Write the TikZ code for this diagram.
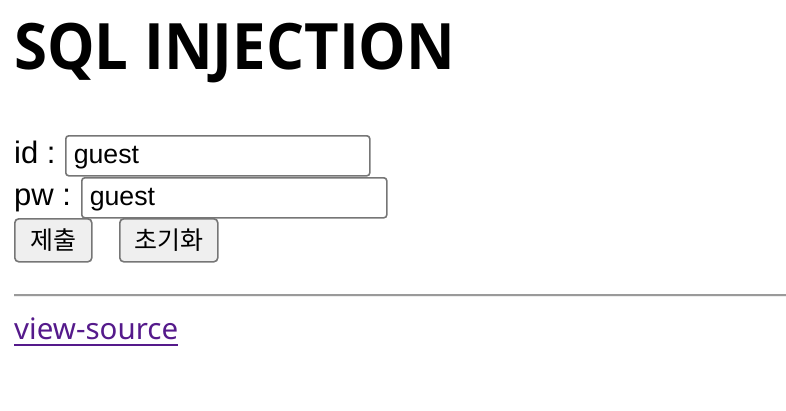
\documentclass[tikz,border=0pt]{standalone}
\usepackage{fontspec}
\setmainfont{Liberation Sans}
\newfontfamily\titlefont{Open Sans Bold}[FakeStretch=0.936]
\newfontfamily\krfont{Noto Sans CJK KR}
\newfontfamily\linkfont{Noto Sans}
\usetikzlibrary{positioning}
\definecolor{boxgray}{HTML}{767676}
\definecolor{btnfill}{HTML}{EFEFEF}
\definecolor{hrgray}{HTML}{9A9A9A}
\definecolor{hrlight}{HTML}{EEEEEE}
\definecolor{linkcol}{HTML}{551A8B}
\tikzset{
  label/.style={
    inner sep=0pt, anchor=base west, font=\fontsize{31}{36}\selectfont
  },
  inputbox/.style={
    draw=boxgray, line width=1.6pt, rounded corners=3pt, anchor=north west,
    minimum height=40pt, inner xsep=8pt, inner ysep=0pt, align=left,
    text height=20pt, text depth=4pt,
    font=\fontsize{26.7}{30}\selectfont
  },
  button/.style={
    draw=boxgray, line width=1.6pt, rounded corners=4pt, fill=btnfill,
    anchor=north west, minimum height=43pt, inner sep=0pt,
    font=\krfont\fontsize{25}{28}\selectfont
  }
}

\begin{document}
\begin{tikzpicture}[x=1pt, y=-1pt]
    \useasboundingbox (0,0) rectangle (786,410);

    % Titre
    \node[inner sep=0pt, anchor=base west, font=\titlefont\fontsize{64}{70}\selectfont] (title) at (14,69) {SQL INJECTION};

    % Champs
    \node[label] (idlabel) at (14,163) {id :};
    \node[inputbox, text width=288pt] (idbox) at (65,135) {guest};
    \node[label] (pwlabel) at (14,205) {pw :};
    \node[inputbox, text width=289pt] (pwbox) at (81,177) {guest};

    % Boutons
    \node[button, minimum width=77pt] (submit) at (14,218) {제출};
    \node[button, minimum width=98pt] (reset) at (119,218) {초기화};

    % Ligne
    \coordinate (hrleft) at (14,295);
    \coordinate (hrright) at (786,295);
    \draw[hrgray, line width=1.5pt] (hrleft) -- (hrright);
    \draw[hrlight, line width=1pt] ([yshift=-1.2pt]hrleft) -- ([yshift=-1.2pt]hrright);

    % Lien
    \node[inner sep=0pt, anchor=base west, text=linkcol, font=\linkfont\fontsize{29.5}{34}\selectfont] (link) at (14,339) {view-source};
    \draw[linkcol, line width=2pt] ([yshift=-6pt]link.base west) -- ([yshift=-6pt]link.base east);

\end{tikzpicture}
\end{document}
